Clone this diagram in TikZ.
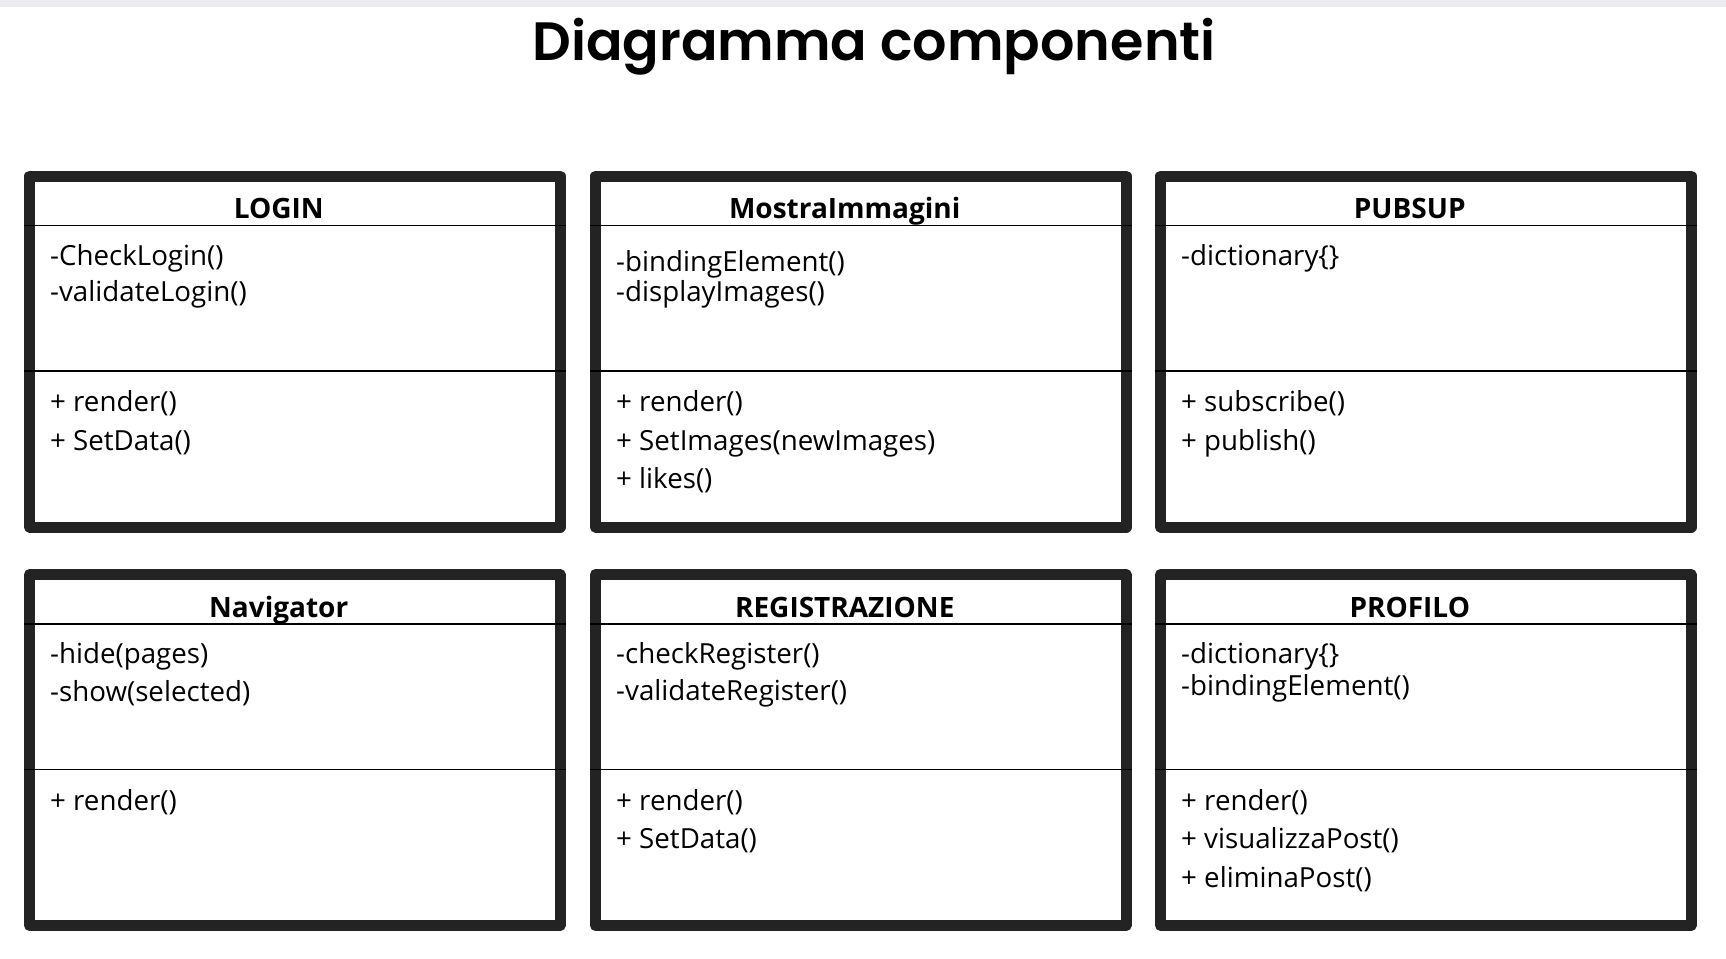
\documentclass[tikz,border=0pt]{standalone}
\usepackage{fontspec}
\setmainfont{Open Sans}
\newfontfamily\titlefont{Poppins SemiBold}
\definecolor{framecol}{RGB}{35,35,35}
\definecolor{bandcol}{RGB}{235,235,240}
\tikzset{
  classbox/.style={draw=framecol, line width=11pt, line join=round, fill=white,
    minimum width=530.5pt, minimum height=351pt, inner sep=0pt, outer sep=0pt,
    anchor=north west, shape=rectangle},
  classtitle/.style={anchor=base, inner sep=0pt, font=\bfseries\fontsize{28}{32}\selectfont},
  member/.style={anchor=base west, inner sep=0pt, font=\fontsize{27.7}{32}\selectfont},
  sepline/.style={draw=black, line width=1.3pt},
  maintitle/.style={anchor=base, inner sep=0pt, font=\titlefont\fontsize{54}{63}\selectfont}
}
\newcommand\umlbox[4]{% name, outer x, outer y, title
  \node[classbox] (#1) at (#2+5.5,#3+5.5) {};
  \node[classtitle] (#1-t) at (#2+254.75,#3+48) {#4};
  \draw[sepline] (#2,#3+55) -- (#2+541.5,#3+55);
  \draw[sepline] (#2,#3+200.5) -- (#2+541.5,#3+200.5);
}
\newcommand\umlline[4]{% name, outer x, y, text
  \node[member] (#1) at (#2+26,#3) {#4};
}
\begin{document}
\begin{tikzpicture}[x=1pt,y=-1pt]
\useasboundingbox (0,0) rectangle (1726,958);
\fill[bandcol] (0,0) rectangle (1726,7);
\node[maintitle] (title) at (874,61) {Diagramma componenti};

% row 1
\umlbox{login}{24}{170.5}{LOGIN}
\umlline{login-a1}{24}{170.5+94.5}{-CheckLogin()}
\umlline{login-a2}{24}{170.5+131}{-validateLogin()}
\umlline{login-m1}{24}{170.5+241}{+ render()}
\umlline{login-m2}{24}{170.5+279.5}{+ SetData()}

\umlbox{mostra}{590}{170.5}{MostraImmagini}
\umlline{mostra-a1}{590}{170.5+101.2}{-bindingElement()}
\umlline{mostra-a2}{590}{170.5+131.2}{-displayImages()}
\umlline{mostra-m1}{590}{170.5+241}{+ render()}
\umlline{mostra-m2}{590}{170.5+279.5}{+ SetImages(newImages)}
\umlline{mostra-m3}{590}{170.5+318}{+ likes()}

\umlbox{pubsup}{1155}{170.5}{PUBSUP}
\umlline{pubsup-a1}{1155}{170.5+94.5}{-dictionary\{\}}
\umlline{pubsup-m1}{1155}{170.5+241}{+ subscribe()}
\umlline{pubsup-m2}{1155}{170.5+279.5}{+ publish()}

% row 2
\umlbox{nav}{24}{569}{Navigator}
\umlline{nav-a1}{24}{569+94.5}{-hide(pages)}
\umlline{nav-a2}{24}{569+132.9}{-show(selected)}
\umlline{nav-m1}{24}{569+241}{+ render()}

\umlbox{reg}{590}{569}{REGISTRAZIONE}
\umlline{reg-a1}{590}{569+94.5}{-checkRegister()}
\umlline{reg-a2}{590}{569+131.2}{-validateRegister()}
\umlline{reg-m1}{590}{569+241}{+ render()}
\umlline{reg-m2}{590}{569+279.5}{+ SetData()}

\umlbox{profilo}{1155}{569}{PROFILO}
\umlline{profilo-a1}{1155}{569+94.5}{-dictionary\{\}}
\umlline{profilo-a2}{1155}{569+126.2}{-bindingElement()}
\umlline{profilo-m1}{1155}{569+241}{+ render()}
\umlline{profilo-m2}{1155}{569+279.5}{+ visualizzaPost()}
\umlline{profilo-m3}{1155}{569+318}{+ eliminaPost()}
\end{tikzpicture}
\end{document}
